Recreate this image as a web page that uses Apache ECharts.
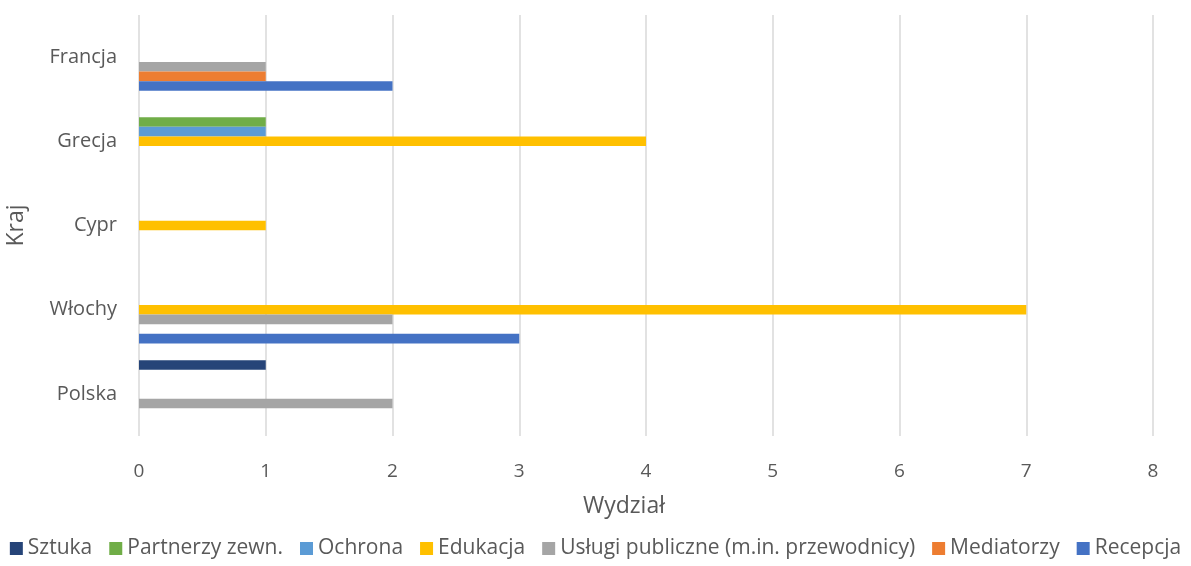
<!DOCTYPE html>
<html><head><meta charset="utf-8">
<script src="https://cdn.jsdelivr.net/npm/echarts@6/dist/echarts.min.js"></script>
<style>html,body{margin:0;padding:0;background:#fff}#c{width:1191px;height:566px}</style>
</head><body><div id="c"></div>
<script>
const categories = ['Polska', 'Włochy', 'Cypr', 'Grecja', 'Francja'];
const xTicks = [0, 1, 2, 3, 4, 5, 6, 7, 8];
const sztuka = [1, null, null, null, null];
const partnerzy = [null, null, null, 1, null];
const ochrona = [null, null, null, 1, null];
const edukacja = [null, 7, 1, 4, null];
const uslugi = [2, 2, null, null, 1];
const mediatorzy = [null, null, null, null, 1];
const recepcja = [null, 3, null, null, 2];
const legendOrder = ['Sztuka', 'Partnerzy zewn.', 'Ochrona', 'Edukacja', 'Usługi publiczne (m.in. przewodnicy)', 'Mediatorzy', 'Recepcja'];

// ECharts places the first series at the top of each category band
const seriesDefs = [
  ['Sztuka', sztuka, '#264478'],
  ['Partnerzy zewn.', partnerzy, '#70AD47'],
  ['Ochrona', ochrona, '#5B9BD5'],
  ['Edukacja', edukacja, '#FFC000'],
  ['Usługi publiczne (m.in. przewodnicy)', uslugi, '#A5A5A5'],
  ['Mediatorzy', mediatorzy, '#ED7D31'],
  ['Recepcja', recepcja, '#4472C4']
];
const font = '"Open Sans", sans-serif';
const chart = echarts.init(document.getElementById('c'));
chart.setOption({
  animation: false,
  grid: {left: 139, right: 38, top: 15, bottom: 130, containLabel: false, outerBoundsMode: 'none'},
  legend: {
    bottom: 2, left: 'center', data: legendOrder, icon: 'rect', itemWidth: 13, itemHeight: 13, itemGap: 17,
    textStyle: {color: '#595959', fontSize: 21, fontFamily: font}
  },
  xAxis: {
    type: 'value', min: 0, max: 8, interval: 1,
    name: 'Wydział', nameLocation: 'middle', nameGap: 59,
    nameTextStyle: {color: '#595959', fontSize: 23, fontFamily: font, padding: [0, 44, 0, 0]},
    axisLabel: {color: '#595959', fontSize: 19, fontFamily: font, margin: 26, formatter: v => xTicks.includes(v) ? String(v) : ''},
    splitLine: {show: true, lineStyle: {color: '#D9D9D9', width: 1.5}},
    axisLine: {show: false}, axisTick: {show: false}
  },
  yAxis: {
    type: 'category', data: categories,
    name: 'Kraj', nameLocation: 'middle', nameGap: 111, nameRotate: 90,
    nameTextStyle: {color: '#595959', fontSize: 23, fontFamily: font},
    axisLabel: {color: '#595959', fontSize: 20, fontFamily: font, margin: 22},
    axisLine: {show: false}, axisTick: {show: false}, splitLine: {show: false}
  },
  series: seriesDefs.map(([name, data, color]) => ({
    name, type: 'bar', data, itemStyle: {color}, barGap: '0%', barCategoryGap: '20%'
  }))
});
</script></body></html>
